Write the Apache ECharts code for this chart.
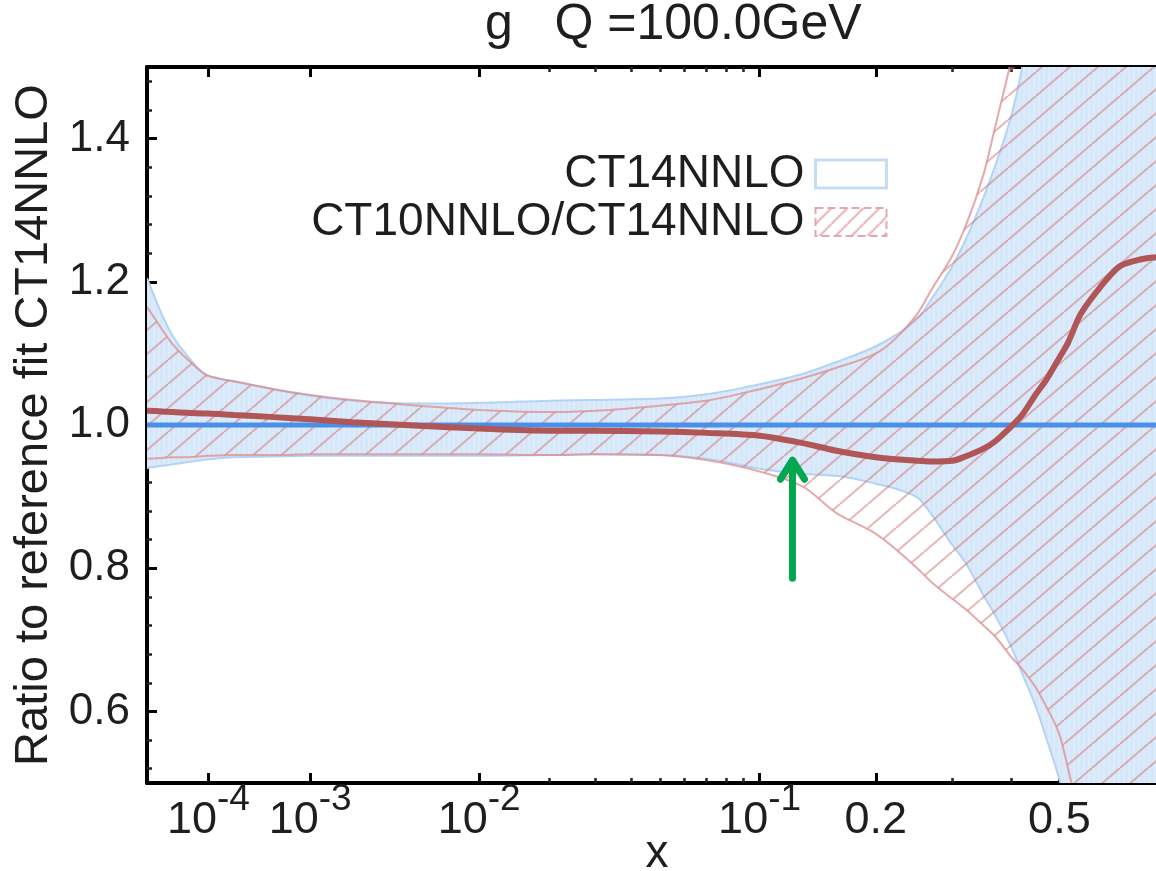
<!DOCTYPE html>
<html>
<head>
<meta charset="utf-8">
<title>g Q =100.0GeV</title>
<script src="https://cdn.jsdelivr.net/npm/echarts@6/dist/echarts.min.js"></script>
<style>
  html, body { margin: 0; padding: 0; background: #fff; }
  #chart { width: 1156px; height: 871px; }
</style>
</head>
<body>
<div id="chart"></div>
<script>
var xs = [1e-5, 2e-5, 3e-5, 5e-5, 1e-4, 2e-4, 5e-4, 1e-3, 2e-3, 5e-3,
  0.01, 0.02, 0.03, 0.05, 0.07, 0.1, 0.13, 0.16, 0.2, 0.25,
  0.27, 0.3, 0.32, 0.35, 0.37, 0.4, 0.42, 0.45, 0.47, 0.5,
  0.52, 0.55, 0.6, 0.65, 0.7, 0.75, 0.8];

// CT14NNLO uncertainty band (ratio to its own central fit)
var ct14Upper = [1.205, 1.153, 1.125, 1.098, 1.068, 1.061, 1.050, 1.041, 1.034, 1.030,
  1.031, 1.034, 1.035, 1.037, 1.043, 1.057, 1.071, 1.088, 1.110, 1.148,
  1.177, 1.222, 1.258, 1.318, 1.361, 1.432, 1.495, 1.62, 1.70, 1.85,
  1.95, 2.1, 2.4, 2.7, 3.0, 3.3, 3.6];
var ct14Lower = [0.940, 0.943, 0.945, 0.948, 0.952, 0.955, 0.956, 0.957, 0.957, 0.957,
  0.957, 0.958, 0.959, 0.958, 0.953, 0.939, 0.932, 0.929, 0.918, 0.899,
  0.874, 0.832, 0.808, 0.762, 0.735, 0.69, 0.655, 0.605, 0.565, 0.505,
  0.46, 0.40, 0.32, 0.25, 0.2, 0.15, 0.1];
var ct14Ratio = [1.0, 1.0];
var ct14RatioX = [1e-5, 1];

// CT10NNLO / CT14NNLO band and central ratio
var ct10Upper = [1.165, 1.133, 1.113, 1.093, 1.069, 1.061, 1.050, 1.042, 1.035, 1.027,
  1.021, 1.018, 1.020, 1.027, 1.034, 1.05, 1.065, 1.08, 1.10, 1.155,
  1.19, 1.237, 1.277, 1.35, 1.415, 1.51, 1.58, 1.70, 1.8, 1.95,
  2.05, 2.2, 2.5, 2.8, 3.1, 3.4, 3.7];
var ct10Lower = [0.953, 0.954, 0.955, 0.955, 0.957, 0.958, 0.958, 0.959, 0.959, 0.959,
  0.959, 0.958, 0.959, 0.958, 0.951, 0.935, 0.915, 0.877, 0.848, 0.80,
  0.78, 0.757, 0.743, 0.72, 0.705, 0.676, 0.66, 0.632, 0.608, 0.568,
  0.52, 0.44, 0.3, 0.2, 0.15, 0.1, 0.05];
var ct10Ratio = [1.020, 1.019, 1.018, 1.017, 1.016, 1.014, 1.011, 1.008, 1.004, 0.999,
  0.995, 0.992, 0.992, 0.991, 0.989, 0.985, 0.975, 0.964, 0.955, 0.950,
  0.949, 0.950, 0.956, 0.967, 0.977, 0.998, 1.013, 1.044, 1.062, 1.094,
  1.115, 1.155, 1.193, 1.221, 1.230, 1.234, 1.235];

// green arrow annotation: x, y of tail, y of tip
var arrowAt = [[0.123, 0.786, 0.955]];

// axis ticks
var xMajorTicks = [1e-4, 1e-3, 1e-2, 0.1, 0.2, 0.5];
var xMajorLabels = ['{b|10}{s|-4}', '{b|10}{s|-3}', '{b|10}{s|-2}', '{b|10}{s|-1}', '{b|0.2}', '{b|0.5}'];
var xMinorTicks = [0.02, 0.03, 0.04, 0.05, 0.06, 0.07, 0.08, 0.09, 0.3, 0.4, 0.6, 0.7, 0.8, 0.9];
var yMajorTicks = [0.6, 0.8, 1.0, 1.2, 1.4];
var yMinorTicks = [0.52, 0.56, 0.64, 0.68, 0.72, 0.76, 0.84, 0.88, 0.92, 0.96,
  1.04, 1.08, 1.12, 1.16, 1.24, 1.28, 1.32, 1.36, 1.44, 1.48];

// the x axis of the original is x^0.22
var XPOW = 0.22;
function xt(x) { return Math.pow(x, XPOW); }
function pts(xv, yv) { return xv.map(function (x, i) { return [xt(x), yv[i]]; }); }

var FONT = 'Liberation Sans, Arial, Helvetica, sans-serif';
var TXT = '#1e1e1e';

function blueFill() {
  var c = document.createElement('canvas');
  c.width = 5; c.height = 10;
  var ctx = c.getContext('2d');
  ctx.fillStyle = '#d5e7f9'; ctx.fillRect(0, 0, 5, 10);
  ctx.fillStyle = '#ddecfa'; ctx.fillRect(3, 0, 2, 10);
  return c;
}
function hatch(w, h, color, lw) {
  var c = document.createElement('canvas');
  c.width = w; c.height = h;
  var ctx = c.getContext('2d');
  ctx.strokeStyle = color; ctx.lineWidth = lw;
  for (var k = -1; k <= 1; k++) {
    ctx.beginPath();
    ctx.moveTo(k * w, h);
    ctx.lineTo(k * w + w, 0);
    ctx.stroke();
  }
  return c;
}

// monotone cubic segments through pixel points (x increasing)
function segs(P) {
  var n = P.length, d = [], h = [], m = [], out = [];
  for (var i = 0; i < n - 1; i++) {
    h[i] = P[i + 1][0] - P[i][0];
    d[i] = (P[i + 1][1] - P[i][1]) / h[i];
  }
  m[0] = d[0]; m[n - 1] = d[n - 2];
  for (i = 1; i < n - 1; i++) {
    if (d[i - 1] * d[i] <= 0) m[i] = 0;
    else m[i] = 3 * (h[i - 1] + h[i]) / ((2 * h[i] + h[i - 1]) / d[i - 1] + (h[i] + 2 * h[i - 1]) / d[i]);
  }
  for (i = 0; i < n - 1; i++) {
    out.push([P[i][0] + h[i] / 3, P[i][1] + m[i] * h[i] / 3,
      P[i + 1][0] - h[i] / 3, P[i + 1][1] - m[i + 1] * h[i] / 3]);
  }
  return out;
}
function curvePath(P) {
  var s = segs(P), str = 'M' + P[0][0] + ' ' + P[0][1];
  s.forEach(function (c, i) {
    str += 'C' + c[0] + ' ' + c[1] + ' ' + c[2] + ' ' + c[3] + ' ' + P[i + 1][0] + ' ' + P[i + 1][1];
  });
  return str;
}
function bandPath(U, L) {
  var str = curvePath(U), s = segs(L), n = L.length;
  str += 'L' + L[n - 1][0] + ' ' + L[n - 1][1];
  for (var i = n - 2; i >= 0; i--) {
    var c = s[i];
    str += 'C' + c[2] + ' ' + c[3] + ' ' + c[0] + ' ' + c[1] + ' ' + L[i][0] + ' ' + L[i][1];
  }
  return str + 'Z';
}

// band drawn as one filled path plus its two edges
function bandSeries(name, upper, lower, fill, edge, legendStyle) {
  return {
    name: name, type: 'custom', clip: true, silent: true,
    itemStyle: legendStyle,
    data: [0],
    renderItem: function (params, api) {
      var U = xs.map(function (x, i) { return api.coord([xt(x), upper[i]]); });
      var L = xs.map(function (x, i) { return api.coord([xt(x), lower[i]]); });
      var r = params.coordSys;
      return {
        type: 'group',
        clipPath: { type: 'rect', shape: { x: r.x, y: r.y, width: r.width, height: r.height } },
        children: [
          { type: 'path', shape: { pathData: bandPath(U, L) }, style: { fill: fill, stroke: null } },
          { type: 'path', shape: { pathData: curvePath(U) }, style: { fill: null, stroke: edge, lineWidth: 2 } },
          { type: 'path', shape: { pathData: curvePath(L) }, style: { fill: null, stroke: edge, lineWidth: 2 } }
        ]
      };
    }
  };
}

var labelMap = {};
xMajorTicks.forEach(function (t, i) { labelMap[xt(t).toFixed(8)] = xMajorLabels[i]; });

var xMin = xt(1e-5), xMax = xt(1);
function xAxisBase(pos) {
  return { type: 'value', position: pos, min: xMin, max: xMax, splitLine: { show: false } };
}

var ct14Legend = { color: '#fff', borderColor: '#c3ddf7', borderWidth: 3 };
var ct10Legend = { color: { image: hatch(16, 16, 'rgba(215,130,130,0.6)', 2), repeat: 'repeat' },
  borderColor: '#e3a9a9', borderWidth: 2, borderType: 'dashed' };

var myChart = echarts.init(document.getElementById('chart'));
var option = {
  animation: false,
  backgroundColor: '#fff',
  title: {
    text: 'g   Q =100.0GeV',
    left: 480, top: -5,
    textStyle: { fontSize: 50, fontWeight: 'normal', color: TXT, fontFamily: FONT }
  },
  legend: {
    orient: 'vertical',
    align: 'right',
    right: 263, top: 146,
    itemWidth: 71, itemHeight: 28, itemGap: 2,
    selectedMode: false,
    textStyle: { fontSize: 46, color: TXT, fontFamily: FONT, lineHeight: 46, padding: [0, 6, 0, 0] },
    data: [
      { name: 'CT14NNLO', icon: 'rect', itemStyle: ct14Legend },
      { name: 'CT10NNLO/CT14NNLO', icon: 'rect', itemStyle: ct10Legend }
    ]
  },
  grid: { left: 147, right: -69, top: 67, bottom: 88, containLabel: false, outerBoundsMode: 'none' },
  xAxis: [
    Object.assign(xAxisBase('bottom'), {
      name: 'x', nameLocation: 'middle', nameGap: 48, nameMoveOverlap: false,
      nameTextStyle: { fontSize: 46, color: TXT, fontFamily: FONT, padding: [0, 58, 0, 0] },
      axisLine: { show: true, lineStyle: { color: '#000', width: 4 } },
      axisTick: { show: true, inside: true, length: 10, lineStyle: { color: '#000', width: 3 },
        customValues: xMajorTicks.map(xt) },
      axisLabel: {
        customValues: xMajorTicks.map(xt),
        margin: -2,
        formatter: function (v) { return labelMap[v.toFixed(8)] || ''; },
        rich: {
          b: { fontSize: 45, lineHeight: 79, color: TXT, fontFamily: FONT },
          s: { fontSize: 37, lineHeight: 37, padding: [0, 0, 42, 0], color: TXT, fontFamily: FONT }
        }
      }
    }),
    Object.assign(xAxisBase('bottom'), {
      axisLine: { show: false },
      axisTick: { show: true, inside: true, length: 5, lineStyle: { color: '#222', width: 2.5 },
        customValues: xMinorTicks.map(xt) },
      axisLabel: { show: false }
    }),
    Object.assign(xAxisBase('top'), {
      axisLine: { show: true, lineStyle: { color: '#000', width: 4 } },
      axisTick: { show: true, inside: true, length: 10, lineStyle: { color: '#000', width: 3 },
        customValues: xMajorTicks.map(xt) },
      axisLabel: { show: false }
    }),
    Object.assign(xAxisBase('top'), {
      axisLine: { show: false },
      axisTick: { show: true, inside: true, length: 5, lineStyle: { color: '#222', width: 2.5 },
        customValues: xMinorTicks.map(xt) },
      axisLabel: { show: false }
    })
  ],
  yAxis: [
    {
      type: 'value', position: 'left', min: 0.5, max: 1.5,
      name: 'Ratio to reference fit CT14NNLO', nameLocation: 'middle', nameGap: 88,
      nameTextStyle: { fontSize: 47, color: TXT, fontFamily: FONT },
      splitLine: { show: false },
      axisLine: { show: true, lineStyle: { color: '#000', width: 4 } },
      axisTick: { show: true, inside: true, length: 10, lineStyle: { color: '#000', width: 3 },
        customValues: yMajorTicks },
      axisLabel: { customValues: yMajorTicks, margin: 17, fontSize: 44, color: TXT, fontFamily: FONT,
        formatter: function (v) { return v.toFixed(1); } }
    },
    {
      type: 'value', position: 'left', min: 0.5, max: 1.5,
      splitLine: { show: false },
      axisLine: { show: false },
      axisTick: { show: true, inside: true, length: 5, lineStyle: { color: '#222', width: 2.5 },
        customValues: yMinorTicks },
      axisLabel: { show: false }
    }
  ],
  series: [
    bandSeries('CT14NNLO', ct14Upper, ct14Lower, { image: blueFill(), repeat: 'repeat' }, '#b3d3f5', ct14Legend),
    bandSeries('CT10NNLO/CT14NNLO', ct10Upper, ct10Lower,
      { image: hatch(28, 24, 'rgba(214,120,120,0.55)', 2), repeat: 'repeat' }, 'rgba(222,140,140,0.75)', ct10Legend),
    {
      name: 'ct14-central', type: 'line', data: pts(ct14RatioX, ct14Ratio),
      showSymbol: false, silent: true,
      lineStyle: { color: '#4a8fe8', width: 5 }
    },
    {
      name: 'ct10-central', type: 'line', data: pts(xs, ct10Ratio),
      smooth: 0.3, showSymbol: false, silent: true,
      lineStyle: { color: '#b05656', width: 6 }
    },
    {
      name: 'arrow', type: 'custom', silent: true, z: 10,
      data: arrowAt.map(function (a) { return [xt(a[0]), a[1], a[2]]; }),
      renderItem: function (params, api) {
        var p0 = api.coord([api.value(0), api.value(1)]);
        var p1 = api.coord([api.value(0), api.value(2)]);
        var st = { stroke: '#00a650', lineWidth: 7, fill: null, lineCap: 'round', lineJoin: 'round' };
        return {
          type: 'group',
          children: [
            { type: 'line', shape: { x1: p0[0], y1: p0[1], x2: p1[0], y2: p1[1] + 4 }, style: st },
            { type: 'polyline', shape: { points: [[p1[0] - 12, p1[1] + 22], [p1[0], p1[1] + 3], [p1[0] + 12, p1[1] + 22]] }, style: st }
          ]
        };
      }
    }
  ]
};
myChart.setOption(option);
window.addEventListener('resize', function () { myChart.resize(); });
</script>
</body>
</html>
